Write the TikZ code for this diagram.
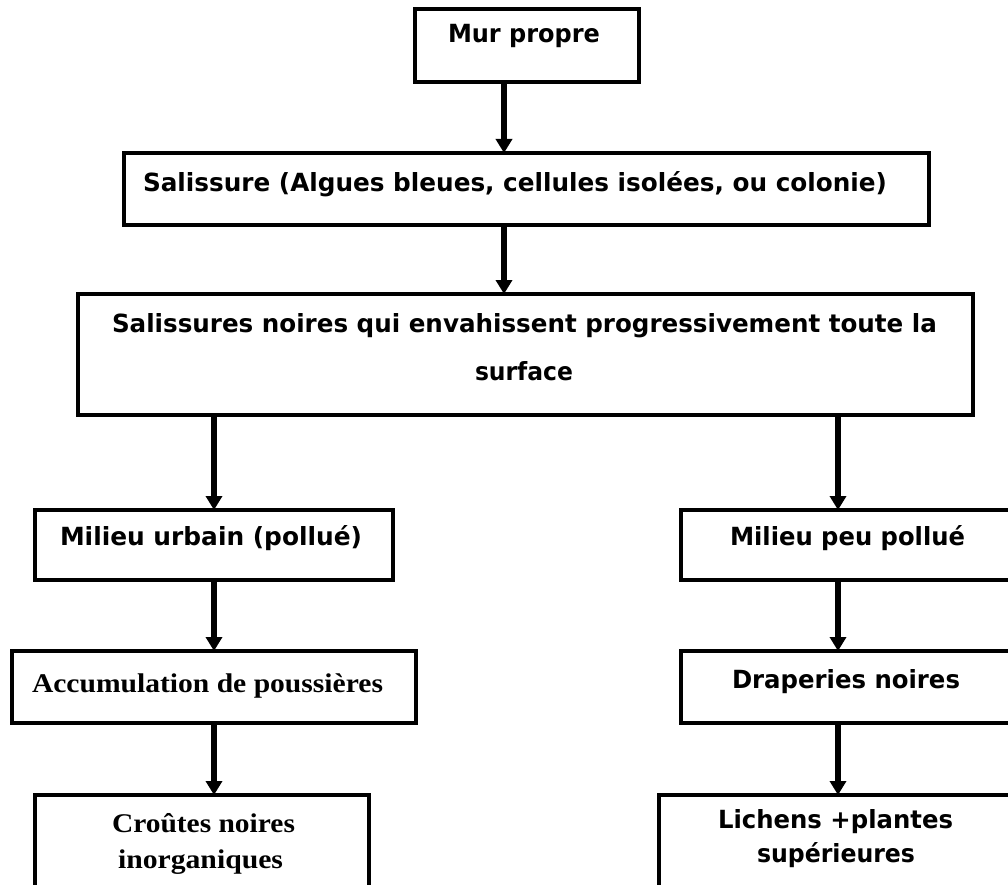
\documentclass[tikz,border=0pt]{standalone}
\usepackage{fontspec}
\setmainfont{DejaVu Sans}
\newfontfamily\serifbold{Liberation Serif}
\usetikzlibrary{arrows.meta}
\newcommand{\fitw}[2]{\resizebox{#1pt}{\height}{#2}}
\tikzset{
  box/.style={draw, rectangle, line width=3.5pt, inner sep=0pt, outer sep=0pt, anchor=north west},
  lbl/.style={anchor=base west, inner sep=0pt, outer sep=0pt, font=\fontsize{25}{30}\selectfont\bfseries},
  slbl/.style={anchor=base west, inner sep=0pt, outer sep=0pt, font=\fontsize{27}{32}\selectfont\serifbold\bfseries},
  arr/.style={line width=5.5pt, -{Triangle[width=16pt,length=14pt]}},
}
\begin{document}
\begin{tikzpicture}[x=1pt,y=-1pt]
\useasboundingbox (0,0) rectangle (1008,885);
\clip (0,0) rectangle (1008,885);
% boxes
\node[box, minimum width=224pt, minimum height=73pt]  (b1) at (415,9)   {};
\node[box, minimum width=805pt, minimum height=72pt]  (b2) at (124,153) {};
\node[box, minimum width=895pt, minimum height=121pt] (b3) at (78,294)  {};
\node[box, minimum width=358pt, minimum height=70pt]  (b4) at (35,510)  {};
\node[box, minimum width=360pt, minimum height=70pt]  (b5) at (681,510) {};
\node[box, minimum width=404pt, minimum height=72pt]  (b6) at (12,651)  {};
\node[box, minimum width=360pt, minimum height=72pt]  (b7) at (681,651) {};
\node[box, minimum width=334pt, minimum height=120pt] (b8) at (35,795)  {};
\node[box, minimum width=380pt, minimum height=120pt] (b9) at (659,795) {};
% texts
\node[lbl]  (t1)  at (448,43)  {\fitw{152}{Mur propre}};
\node[lbl]  (t2)  at (143,192) {\fitw{744}{Salissure (Algues bleues, cellules isolées, ou colonie)}};
\node[lbl]  (t3a) at (112,332) {\fitw{825}{Salissures noires qui envahissent progressivement toute la}};
\node[lbl]  (t3b) at (475,380) {\fitw{98}{surface}};
\node[lbl]  (t4)  at (60,545)  {\fitw{302}{Milieu urbain (pollué)}};
\node[lbl]  (t5)  at (730,545) {\fitw{235}{Milieu peu pollué}};
\node[slbl] (t6)  at (32,692)  {\fitw{351}{Accumulation de poussières}};
\node[lbl]  (t7)  at (732,688) {\fitw{228}{Draperies noires}};
\node[slbl] (t8a) at (112,832) {\fitw{183}{Croûtes noires}};
\node[slbl] (t8b) at (118,868) {\fitw{165}{inorganiques}};
\node[lbl]  (t9a) at (718,828) {\fitw{235}{Lichens +plantes}};
\node[lbl]  (t9b) at (757,862) {\fitw{158}{supérieures}};
% connector columns
\coordinate (cm) at (504,0);
\coordinate (cl) at (214,0);
\coordinate (cr) at (838,0);
% connectors
\draw[arr] (b1.south -| cm) -- (b2.north -| cm);
\draw[arr] (b2.south -| cm) -- (b3.north -| cm);
\draw[arr] (b3.south -| cl) -- (b4.north -| cl);
\draw[arr] (b4.south -| cl) -- (b6.north -| cl);
\draw[arr] (b6.south -| cl) -- (b8.north -| cl);
\draw[arr] (b3.south -| cr) -- (b5.north -| cr);
\draw[arr] (b5.south -| cr) -- (b7.north -| cr);
\draw[arr] (b7.south -| cr) -- (b9.north -| cr);
\end{tikzpicture}
\end{document}
